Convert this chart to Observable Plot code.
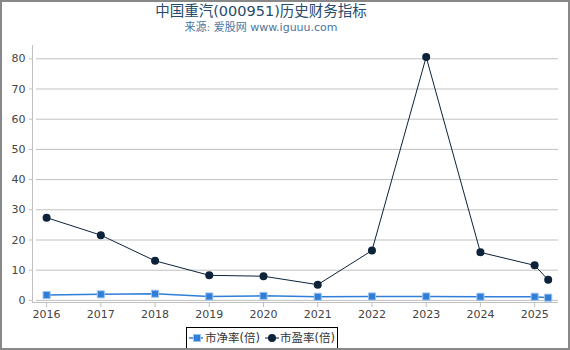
<!DOCTYPE html>
<html><head><meta charset="utf-8">
<script src="https://cdn.jsdelivr.net/npm/d3@7"></script>
<script src="https://cdn.jsdelivr.net/npm/@observablehq/plot@0.6"></script>
<style>
body{margin:0;background:#fff;font-family:"DejaVu Sans","Noto Sans CJK SC",sans-serif;}
#wrap{position:relative;width:570px;height:350px;overflow:hidden;background:#fff;}
#chart{position:absolute;left:0;top:0;}
#title{position:absolute;top:1px;left:261px;transform:translateX(-50%);white-space:nowrap;font-size:14.5px;color:#274b6d;line-height:20px;}
#subtitle{position:absolute;top:20px;left:261px;transform:translateX(-50%);white-space:nowrap;font-size:11px;color:#4d759e;line-height:16px;}
#legend{position:absolute;left:186px;top:327px;width:150px;height:20px;border:1px solid #000;font-size:11.5px;color:#333;white-space:nowrap;}
#legend .i{position:absolute;top:4px;}
#legend .t{position:absolute;top:2px;line-height:16px;}
#frame{position:absolute;left:0;top:0;width:570px;height:350px;box-sizing:border-box;border:2px solid #888;pointer-events:none;}
</style></head>
<body>
<div id="wrap">
<div id="chart"></div>
<div id="title">中国重汽(000951)历史财务指标</div>
<div id="subtitle">来源: 爱股网 www.iguuu.com</div>
<div id="legend">
<svg class="i" style="left:1px" width="16" height="12"><line x1="1" y1="6" x2="15" y2="6" stroke="#2f7ed8" stroke-width="1.5"/><rect x="5.5" y="2.5" width="7" height="7" fill="#2f7ed8" stroke="#9cc3ee" stroke-width="1"/></svg>
<span class="t" style="left:18px">市净率(倍)</span>
<svg class="i" style="left:77px" width="16" height="12"><line x1="1" y1="6" x2="15" y2="6" stroke="#0d233a" stroke-width="1"/><circle cx="8" cy="6" r="4" fill="#0d233a"/></svg>
<span class="t" style="left:93px">市盈率(倍)</span>
</div>
<div id="frame"></div>
</div>
<script>
const years = [2016, 2017, 2018, 2019, 2020, 2021, 2022, 2023, 2024, 2025, 2025.25];
const pb = [1.75, 2.0, 2.2, 1.3, 1.5, 1.2, 1.3, 1.3, 1.2, 1.2, 0.9];
const pe = [27.4, 21.6, 13.1, 8.3, 8.0, 5.2, 16.5, 80.6, 15.9, 11.6, 6.8];
const xTicks = [2016, 2017, 2018, 2019, 2020, 2021, 2022, 2023, 2024, 2025];
const yTicks = [0, 10, 20, 30, 40, 50, 60, 70, 80];

const pbData = years.map((x, i) => ({x, v: pb[i]}));
const peData = years.map((x, i) => ({x, v: pe[i]}));

const plot = Plot.plot({
  width: 570,
  height: 350,
  marginLeft: 32,
  marginRight: 12,
  marginTop: 45,
  marginBottom: 48,
  style: {fontFamily: '"DejaVu Sans", sans-serif', fontSize: "11px", color: "#444", background: "transparent"},
  x: {domain: [2015.74, 2025.44], ticks: xTicks, tickFormat: d => String(d), label: null},
  y: {domain: [-0.7, 84.4], ticks: yTicks, label: null},
  marks: [
    Plot.gridY(yTicks, {stroke: "#c0c0c0", strokeOpacity: 1, insetLeft: 4}),
    Plot.ruleX([2015.74], {stroke: "#c0c0c0"}),
    Plot.ruleY([-0.7], {stroke: "#c0c0c0"}),
    Plot.axisY({ticks: yTicks, tickSize: 3, tickPadding: 4, stroke: "#c0c0c0", fill: "#444", fontSize: 11, label: null}),
    Plot.axisX({ticks: xTicks, tickSize: 5, tickPadding: 3, stroke: "#c0c0c0", fill: "#444", fontSize: 11, tickFormat: d => String(d), label: null}),
    Plot.line(pbData, {x: "x", y: "v", stroke: "#2f7ed8", strokeWidth: 1.5}),
    Plot.dot(pbData, {x: "x", y: "v", symbol: "square", r: 4, fill: "#2f7ed8", stroke: "#9cc3ee", strokeWidth: 1}),
    Plot.line(peData, {x: "x", y: "v", stroke: "#0d233a", strokeWidth: 1}),
    Plot.dot(peData, {x: "x", y: "v", r: 4, fill: "#0d233a"})
  ]
});
document.getElementById("chart").appendChild(plot);
</script>
</body></html>
